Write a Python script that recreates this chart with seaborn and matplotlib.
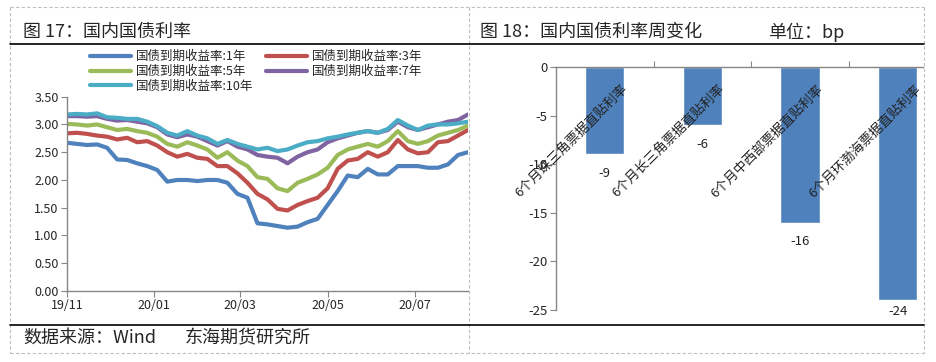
import pandas as pd
import matplotlib.pyplot as plt
from matplotlib.lines import Line2D
import seaborn as sns

# ---- 数据 ----
dates = pd.date_range("2019-11-01", periods=41, freq="7D")

y1 = [2.67, 2.65, 2.63, 2.64, 2.58, 2.37, 2.36, 2.30, 2.25, 2.18,
      1.97, 2.00, 2.00, 1.98, 2.00, 2.00, 1.95, 1.75, 1.68, 1.22,
      1.20, 1.17, 1.14, 1.16, 1.24, 1.30, 1.55, 1.80, 2.08, 2.05,
      2.20, 2.10, 2.10, 2.25, 2.25, 2.25, 2.22, 2.22, 2.28, 2.45, 2.50]
y3 = [2.84, 2.85, 2.83, 2.80, 2.78, 2.73, 2.76, 2.68, 2.70, 2.62,
      2.50, 2.42, 2.47, 2.40, 2.38, 2.25, 2.25, 2.12, 1.95, 1.75,
      1.65, 1.48, 1.45, 1.55, 1.62, 1.68, 1.85, 2.20, 2.35, 2.38,
      2.50, 2.42, 2.50, 2.72, 2.55, 2.48, 2.50, 2.68, 2.70, 2.80, 2.90]
y5 = [3.01, 3.00, 2.98, 3.00, 2.95, 2.90, 2.92, 2.88, 2.85, 2.78,
      2.65, 2.60, 2.68, 2.62, 2.55, 2.40, 2.50, 2.35, 2.25, 2.05,
      2.02, 1.85, 1.80, 1.95, 2.02, 2.10, 2.22, 2.45, 2.55, 2.60,
      2.65, 2.60, 2.70, 2.88, 2.70, 2.65, 2.70, 2.80, 2.85, 2.90, 2.98]
y7 = [3.15, 3.15, 3.14, 3.15, 3.10, 3.07, 3.08, 3.05, 3.02, 2.95,
      2.82, 2.77, 2.82, 2.78, 2.70, 2.62, 2.70, 2.60, 2.55, 2.45,
      2.42, 2.40, 2.30, 2.42, 2.50, 2.55, 2.68, 2.75, 2.80, 2.85,
      2.88, 2.85, 2.90, 3.05, 2.95, 2.90, 2.95, 3.00, 3.05, 3.08, 3.18]
y10 = [3.18, 3.19, 3.18, 3.20, 3.13, 3.12, 3.10, 3.10, 3.05, 2.97,
       2.85, 2.80, 2.88, 2.80, 2.75, 2.65, 2.72, 2.65, 2.60, 2.55,
       2.58, 2.52, 2.55, 2.62, 2.68, 2.70, 2.75, 2.78, 2.82, 2.85,
       2.88, 2.85, 2.92, 3.08, 2.98, 2.90, 2.98, 3.00, 3.00, 3.02, 3.05]

series_names = ["国债到期收益率:1年", "国债到期收益率:3年", "国债到期收益率:5年",
                "国债到期收益率:7年", "国债到期收益率:10年"]
series_colors = ["#4F81BD", "#C0504D", "#9BBB59", "#8064A2", "#4BACC6"]

bar_labels = ["6个月珠三角票据直贴利率", "6个月长三角票据直贴利率",
              "6个月中西部票据直贴利率", "6个月环渤海票据直贴利率"]
bar_values = [-9, -6, -16, -24]

x_ticks = ["2019-11-01", "2020-01-01", "2020-03-01", "2020-05-01", "2020-07-01"]
x_tick_labels = ["19/11", "20/01", "20/03", "20/05", "20/07"]

# ---- 样式 ----
sns.set_style("white")
plt.rcParams['font.family'] = ['Noto Sans CJK SC', 'DejaVu Sans']
plt.rcParams['axes.unicode_minus'] = False

W, H = 936, 362
def px(x):
    return x / W
def py(y):
    return 1 - y / H

fig = plt.figure(figsize=(W / 100, H / 100), dpi=100)
grey = "#868686"

# ---- 左图：国内国债利率 ----
ax1 = fig.add_axes([px(67), py(291), px(468) - px(67), py(96.7) - py(291)])
df = pd.DataFrame({"日期": dates})
for name, vals in zip(series_names, [y1, y3, y5, y7, y10]):
    df[name] = vals
long = df.melt(id_vars="日期", var_name="期限", value_name="收益率")
sns.lineplot(data=long, x="日期", y="收益率", hue="期限", palette=series_colors,
             linewidth=3, ax=ax1)

h, l = ax1.get_legend_handles_labels()
order = [0, 2, 4, 1, 3]
ax1.legend([h[i] for i in order], [l[i] for i in order], ncol=2, frameon=False,
           loc="upper left", bbox_to_anchor=(px(90), py(50)),
           bbox_transform=fig.transFigure, fontsize=9, handlelength=3.3,
           handletextpad=0.4, columnspacing=1.0, labelspacing=0.15,
           borderpad=0, borderaxespad=0)

ax1.set_ylim(0, 3.5)
ax1.set_yticks([0, 0.5, 1, 1.5, 2, 2.5, 3, 3.5])
ax1.set_yticklabels([f"{v:.2f}" for v in ax1.get_yticks()])
ax1.set_xlim(dates[0], dates[-1])
ax1.set_xticks(pd.to_datetime(x_ticks))
ax1.set_xticklabels(x_tick_labels)
ax1.set_xlabel("")
ax1.set_ylabel("")
ax1.tick_params(axis="both", direction="out", length=4, color=grey,
                labelsize=9, pad=2, left=True, bottom=True)
for s in ["top", "right"]:
    ax1.spines[s].set_visible(False)
for s in ["left", "bottom"]:
    ax1.spines[s].set_color(grey)
    ax1.spines[s].set_linewidth(1)

# ---- 右图：国内国债利率周变化 ----
ax2 = fig.add_axes([px(556), py(310), px(923) - px(556), py(67) - py(310)])
sns.barplot(x=bar_labels, y=bar_values, color="#4F81BD", saturation=1,
            width=0.4, ax=ax2)
ax2.set_xlim(-0.5, 3.26)
ax2.set_ylim(-25, 0)
ax2.set_yticks([0, -5, -10, -15, -20, -25])
ax2.set_xticks([0.5, 1.5, 2.5])
ax2.tick_params(axis="x", top=True, bottom=False, labeltop=False,
                labelbottom=False, direction="out", length=4, color=grey)
ax2.tick_params(axis="y", direction="out", length=4, color=grey,
                labelsize=9.5, pad=2, left=True)
for s in ["bottom", "right"]:
    ax2.spines[s].set_visible(False)
for s in ["left", "top"]:
    ax2.spines[s].set_color(grey)
    ax2.spines[s].set_linewidth(1)

for i, (lab, v) in enumerate(zip(bar_labels, bar_values)):
    ax2.text(i + 0.17, -1.65, lab, rotation=45, ha="right", va="top",
             rotation_mode="anchor", fontsize=9.5, color="#222222")
    ax2.text(i, max(v - 2.0, -25.2), str(v), ha="center", va="center",
             fontsize=9.5, color="#222222")

# ---- 标题、来源与边框 ----
fig.text(px(23), py(32), "图 17：国内国债利率", fontsize=13, va="center")
fig.text(px(480), py(32), "图 18：国内国债利率周变化", fontsize=13, va="center")
fig.text(px(768), py(32), "单位：bp", fontsize=13, va="center")
fig.text(px(23), py(338), "数据来源：Wind", fontsize=13, va="center")
fig.text(px(185), py(338), "东海期货研究所", fontsize=13, va="center")

dash = dict(transform=fig.transFigure, color="#BFBFBF", lw=0.8, ls=(0, (3, 2)))
fig.add_artist(Line2D([px(10), px(924)], [py(7), py(7)], **dash))
fig.add_artist(Line2D([px(10), px(924)], [py(353), py(353)], **dash))
for xx in [10, 469, 924]:
    fig.add_artist(Line2D([px(xx), px(xx)], [py(7), py(353)], **dash))
for yy in [44, 325]:
    fig.add_artist(Line2D([px(10), px(924)], [py(yy), py(yy)],
                          transform=fig.transFigure, color="black", lw=1.2))

plt.savefig("out.png", dpi=100)
